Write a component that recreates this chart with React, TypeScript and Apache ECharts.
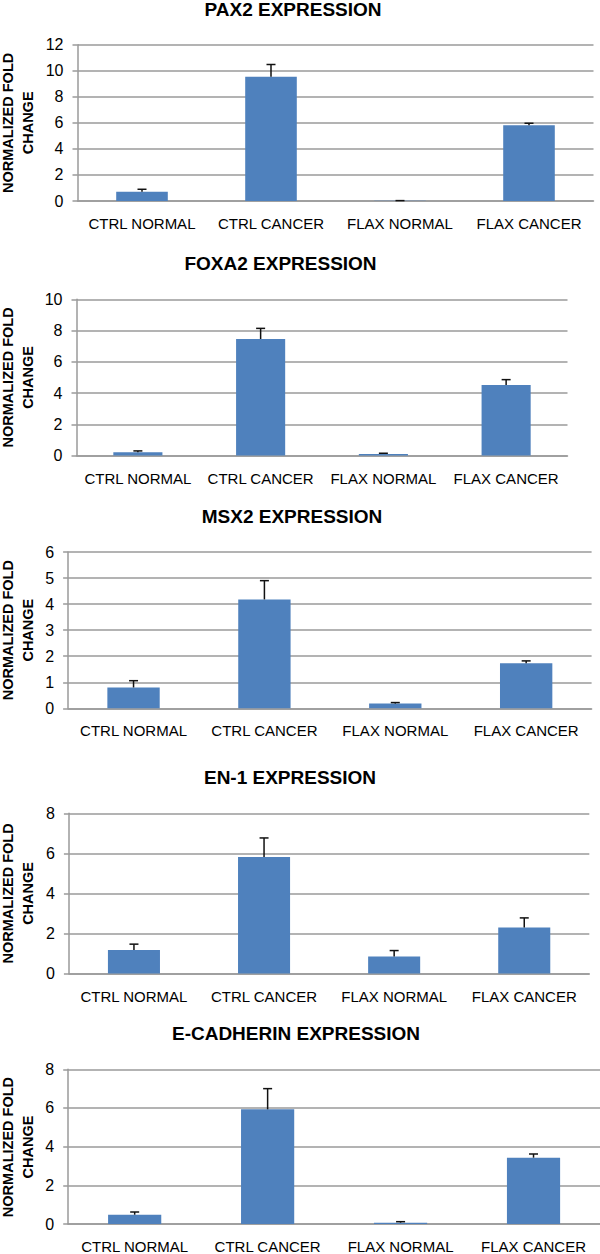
import React, { useEffect, useRef } from "react";
import * as echarts from "echarts";

const categories = ["CTRL NORMAL", "CTRL CANCER", "FLAX NORMAL", "FLAX CANCER"];

const panelTitles = [
  "PAX2 EXPRESSION",
  "FOXA2 EXPRESSION",
  "MSX2 EXPRESSION",
  "EN-1 EXPRESSION",
  "E-CADHERIN EXPRESSION",
];

const pax2Values = [0.71, 9.53, 0.02, 5.82];
const pax2Sd = [0.19, 0.95, 0.01, 0.15];

const foxa2Values = [0.22, 7.46, 0.11, 4.52];
const foxa2Sd = [0.08, 0.68, 0.04, 0.34];

const msx2Values = [0.8, 4.18, 0.18, 1.73];
const msx2Sd = [0.26, 0.72, 0.04, 0.09];

const en1Values = [1.18, 5.82, 0.85, 2.3];
const en1Sd = [0.29, 0.95, 0.3, 0.48];

const ecadValues = [0.48, 5.93, 0.07, 3.43];
const ecadSd = [0.14, 1.07, 0.05, 0.19];

const yMax = [12, 10, 6, 8, 8];
const yStep = [2, 2, 1, 2, 2];

const yAxisName = "NORMALIZED FOLD\nCHANGE";

const valueSets = [pax2Values, foxa2Values, msx2Values, en1Values, ecadValues];
const sdSets = [pax2Sd, foxa2Sd, msx2Sd, en1Sd, ecadSd];

// layout (px)
const grids = [
  { left: 77.5, top: 44.7, width: 516, height: 156.3 },
  { left: 76.5, top: 299.3, width: 491, height: 156.3 },
  { left: 68.1, top: 552, width: 523.5, height: 156.3 },
  { left: 68.9, top: 813.3, width: 520.4, height: 160.3 },
  { left: 68.2, top: 1069.3, width: 533, height: 155.5 },
];
const titlePos = [
  [293, 9],
  [280.5, 263.3],
  [292, 516],
  [290, 777],
  [296, 1033],
];

const BAR = "#4F81BD";
const GRID = "#9a9a9a";
const FONT = "'Liberation Sans', Arial, sans-serif";

export default function App() {
  const ref = useRef<HTMLDivElement>(null);
  useEffect(() => {
    if (!ref.current) return;
    const chart = echarts.init(ref.current, null, { renderer: "svg" });
    const series: any[] = [];
    const xAxis: any[] = [];
    const yAxis: any[] = [];
    const graphic: any[] = [];
    grids.forEach((g, i) => {
      xAxis.push({
        type: "category",
        gridIndex: i,
        data: categories,
        axisLine: { show: true, lineStyle: { color: GRID, width: 1.5 } },
        axisTick: { show: false },
        axisLabel: {
          color: "#000",
          fontSize: 15,
          fontFamily: FONT,
          margin: 15,
          interval: 0,
        },
        splitLine: { show: false },
      });
      yAxis.push({
        type: "value",
        gridIndex: i,
        min: 0,
        max: yMax[i],
        interval: yStep[i],
        axisLine: { show: true, lineStyle: { color: GRID, width: 1.5 } },
        axisTick: { show: true, length: 5, lineStyle: { color: GRID, width: 1.5 } },
        axisLabel: { color: "#000", fontSize: 16, fontFamily: FONT, margin: 14 },
        splitLine: { show: true, lineStyle: { color: GRID, width: 1.5 } },
      });
      series.push({
        type: "bar",
        xAxisIndex: i,
        yAxisIndex: i,
        data: valueSets[i],
        barWidth: "40%",
        itemStyle: { color: BAR },
        z: 2,
      });
      series.push({
        type: "custom",
        xAxisIndex: i,
        yAxisIndex: i,
        z: 5,
        data: valueSets[i].map((v, k) => [k, v, v + sdSets[i][k]]),
        renderItem: (params: any, api: any) => {
          const base = api.coord([api.value(0), api.value(1)]);
          const top = api.coord([api.value(0), api.value(2)]);
          const st = { stroke: "#111", lineWidth: 1.5 };
          return {
            type: "group",
            children: [
              { type: "line", shape: { x1: base[0], y1: base[1], x2: top[0], y2: top[1] }, style: st },
              { type: "line", shape: { x1: top[0] - 4.5, y1: top[1], x2: top[0] + 4.5, y2: top[1] }, style: st },
            ],
          };
        },
      });
      graphic.push({
        type: "text",
        x: titlePos[i][0],
        y: titlePos[i][1],
        style: {
          text: panelTitles[i],
          font: `bold 19px ${FONT}`,
          fill: "#000",
          align: "center",
          verticalAlign: "middle",
        },
      });
      graphic.push({
        type: "text",
        x: 17.5,
        y: g.top + g.height / 2,
        rotation: Math.PI / 2,
        style: {
          text: yAxisName,
          font: `bold 14.5px ${FONT}`,
          lineHeight: 20,
          fill: "#000",
          align: "center",
          verticalAlign: "middle",
        },
      });
    });
    chart.setOption({
      animation: false,
      backgroundColor: "#fff",
      grid: grids.map((g) => ({ ...g, containLabel: false })),
      xAxis,
      yAxis,
      series,
      graphic,
    });
    return () => chart.dispose();
  }, []);
  return (
    <div
      ref={ref}
      style={{ position: "absolute", left: 0, top: 0, width: 600, height: 1254 }}
    />
  );
}
